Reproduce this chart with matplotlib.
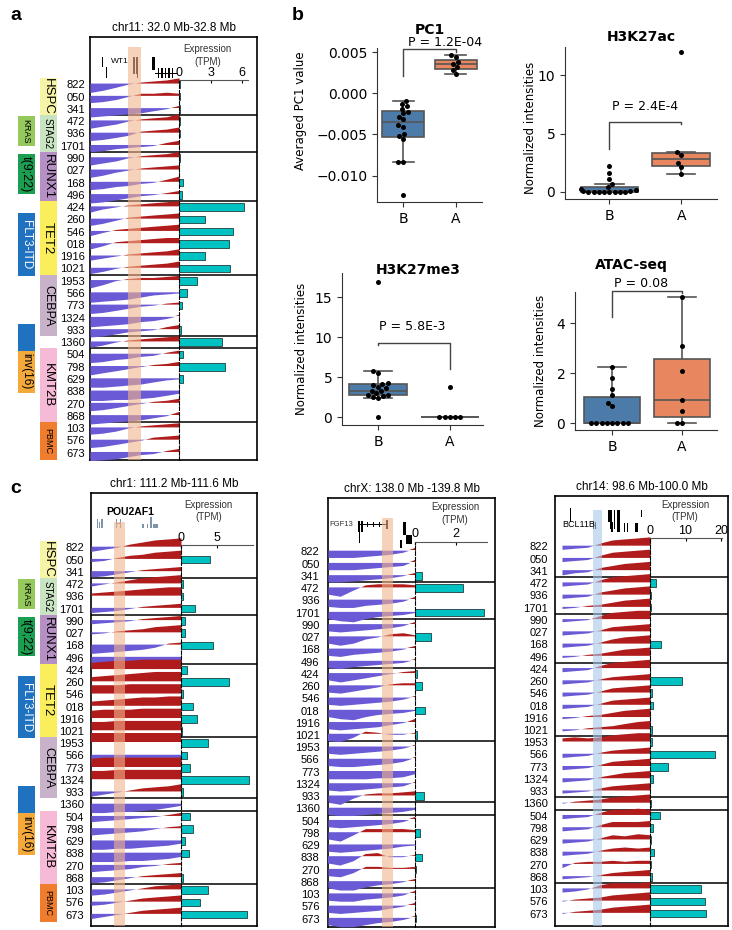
import numpy as np
import matplotlib
matplotlib.use("Agg")
import matplotlib.pyplot as plt
from matplotlib.transforms import blended_transform_factory
import seaborn as sns

plt.rcParams['font.family'] = ['Liberation Sans', 'DejaVu Sans']

W, H = 732, 930
fig = plt.figure(figsize=(W / 100, H / 100), dpi=100)

BLUE = '#6a5ad6'
RED = '#b01c1c'
TEAL = '#00c2c2'

# samples (same order in all track panels) and the group boundaries
samples = ["822", "050", "341", "472", "936", "1701", "990", "027", "168", "496",
           "424", "260", "546", "018", "1916", "1021", "1953", "566", "773", "1324",
           "933", "1360", "504", "798", "629", "838", "270", "868", "103", "576", "673"]
breaks = [2.5, 5.5, 9.5, 15.5, 20.5, 21.5, 27.5]

# left annotation strip
mut_names = ["HSPC", "STAG2", "RUNX1", "TET2", "CEBPA", "KMT2B", "PBMC"]
mut_start = [-0.5, 2.5, 5.5, 9.5, 15.5, 21.5, 27.5]
mut_end = [2.5, 5.5, 9.5, 15.5, 20.5, 27.5, 30.6]
mut_colors = ['#f6f4a6', '#c9e4c3', '#b690c5', '#fbee5c', '#c8b2c9', '#f6b9d6', '#ef7d2d']
mut_fs = [9.5, 7, 9.5, 9.5, 9, 9.5, 6.5]
co_names = ["KRAS", "t(9;22)", "FLT3-ITD", "", "inv(16)"]
co_start = [2.6, 5.7, 10.5, 19.5, 21.7]
co_end = [5.0, 8.9, 15.6, 21.7, 25.1]
co_colors = ['#95c95c', '#1b9e50', '#1f72bf', '#1f72bf', '#f4a93a']
co_text = ['black', 'black', 'white', 'white', 'black']
co_fs = [6.5, 9, 8.5, 8, 8.5]

# compartment profiles (tenths), sampled at these positions along each region
track_x = [0, 0.14, 0.29, 0.43, 0.57, 0.71, 0.86, 1.0]

pc_wt1 = [
    [-9, -7, -4, -1, 1, 2, 3, 5], [-7, -6, -4, -1, 2, 2, 3, 2], [-9, -8, -7, -6, -5, -3, -1, 2],
    [-8, -6, -4, -1, 1, 2, 3, 6], [-8, -7, -5, -3, 1, 2, 3, 5], [-7, -6, -4, -3, -2, -1, 2, 4],
    [-8, -6, -4, -1, 1, 2, 3, 5], [-8, -6, -3, -1, 1, 2, 3, 4], [-8, -7, -5, -4, -2, -1, 2, 5],
    [-9, -8, -6, -4, -2, -1, 1, 3],
    [-6, -3, -1, 1, 2, 3, 4, 5], [-7, -5, -2, 1, 2, 3, 4, 5], [-5, -2, 1, 2, 3, 4, 5, 6],
    [-6, -3, 1, 2, 3, 4, 5, 5], [-5, -3, -1, 1, 2, 3, 4, 6], [-6, -4, -1, 1, 2, 3, 4, 6],
    [-8, -5, -1, 1, 2, 2, 3, 4], [-10, -9, -8, -7, -5, -3, -2, -1], [-9, -8, -6, -4, -2, -1, 1, 2],
    [-10, -9, -8, -7, -5, -4, -2, 1], [-8, -7, -5, -3, -2, -1, 2, 4],
    [-6, -4, -1, 1, 2, 3, 4, 5],
    [-9, -8, -6, -5, -3, -2, 1, 3], [-9, -7, -5, -3, -1, 1, 2, 4], [-9, -9, -8, -7, -6, -4, -2, -1],
    [-10, -10, -9, -9, -8, -7, -5, -3], [-8, -7, -5, -3, -1, 1, 2, 4], [-9, -8, -7, -6, -5, -3, -1, 3],
    [-7, -6, -4, -1, 1, 2, 3, 4], [-8, -7, -5, -3, -1, 2, 3, 4], [-9, -8, -7, -5, -3, -2, 1, 3],
]
pc_pou = [
    [-5, -3, -1, 2, 4, 6, 7, 8], [-3, -2, 1, 3, 4, 6, 7, 8], [-6, -5, -3, -1, 1, 2, 3, 4],
    [-3, -1, 1, 3, 5, 6, 7, 8], [2, 3, 4, 5, 6, 7, 8, 8], [-5, -4, -3, -1, 1, 2, 3, 4],
    [-4, -3, -2, -1, 1, 2, 3, 4], [-2, -1, 1, 2, 3, 5, 6, 7], [-9, -8, -7, -6, -5, -3, 1, 2],
    [-9, -9, -8, -8, -7, -6, -5, -3],
    [6, 7, 8, 8, 9, 9, 9, 9], [4, 5, 6, 7, 8, 9, 9, 9], [8, 8, 8, 9, 9, 9, 9, 9],
    [4, 5, 6, 7, 8, 8, 9, 9], [7, 8, 8, 8, 9, 9, 9, 9], [8, 8, 9, 9, 9, 9, 9, 9],
    [9, 9, 9, 9, 9, 9, 9, 9], [-8, -8, -7, -6, -6, -5, -5, -4], [8, 9, 9, 9, 9, 9, 9, 9],
    [8, 8, 9, 9, 9, 9, 9, 9], [-5, -3, -1, 1, 3, 4, 5, 7],
    [-9, -9, -8, -8, -7, -6, -4, -2],
    [-6, -5, -4, -3, -2, -1, 1, 3], [-7, -6, -5, -4, -3, -1, 1, 2], [-9, -9, -8, -8, -7, -6, -5, -3],
    [-9, -9, -9, -8, -8, -7, -6, -4], [-7, -6, -5, -4, -2, -1, 1, 2], [-6, -5, -3, -1, 1, 2, 3, 4],
    [-6, -5, -3, -1, 1, 3, 4, 5], [-4, -3, -1, 1, 3, 4, 5, 6], [-5, -3, -1, 1, 3, 4, 5, 6],
]
pc_fgf = [
    [-7, -7, -7, -6, -5, -4, -2, 2], [-7, -7, -7, -6, -5, -4, -3, 2], [-7, -7, -6, -5, -4, -3, -1, 2],
    [-7, -9, -3, 2, 3, 3, 3, 2], [-7, -8, -8, -6, -5, -4, -2, 2], [-7, -9, -10, -7, -5, -4, -3, -1],
    [-7, -8, -7, -6, -5, -4, -2, 2], [-7, -9, -7, -3, -1, 2, 3, 1], [-7, -8, -6, -5, -4, -3, -1, 2],
    [-7, -8, -6, -5, -4, -3, -2, 1],
    [-7, -9, -7, -5, -3, -1, 1, 2], [-7, -8, -6, -4, -2, 1, 2, 2], [-7, -8, -7, -6, -5, -4, -2, 1],
    [-7, -9, -10, -7, -5, -4, -3, -1], [-7, -8, -7, -6, -5, -3, -1, 2], [-7, -8, -4, 2, 1, -1, -1, 1],
    [-7, -8, -7, -6, -5, -4, -2, 1], [-7, -8, -8, -7, -6, -5, -3, 1], [-8, -8, -8, -8, -7, -7, -6, -3],
    [-7, -8, -7, -6, -5, -4, -3, 1], [-7, -9, -3, 1, 2, 2, 3, 4],
    [-7, -8, -8, -7, -6, -5, -4, -2],
    [-7, -8, -7, -6, -5, -4, -2, 2], [-7, -9, -3, 3, 3, 3, 3, 2], [-7, -8, -7, -6, -5, -4, -2, -1],
    [-7, -9, -5, 2, 3, -1, -1, 1], [-7, -8, -4, 2, 2, 1, 1, 2], [-7, -9, -9, -6, -4, -3, -1, 2],
    [-7, -8, -8, -6, -5, -4, -2, 2], [-7, -8, -7, -6, -5, -3, -1, 2], [-7, -9, -9, -7, -5, -4, -2, 1],
]
pc_bcl = [
    [-4, -3, -2, 2, 5, 6, 7, 8], [-4, -3, -2, 2, 5, 6, 7, 8], [-5, -3, -2, 2, 4, 6, 7, 8],
    [-4, -3, -2, 2, 5, 6, 7, 8], [-4, -3, -2, 2, 4, 6, 7, 8], [-2, -1, 1, 2, 4, 6, 7, 8],
    [-3, -2, -1, 3, 6, 7, 8, 8], [-4, -3, -2, 1, 4, 5, 6, 7], [-4, -3, -2, 1, 4, 6, 7, 8],
    [-2, -1, 1, 2, 4, 6, 7, 8],
    [-4, -3, -2, 2, 5, 6, 7, 8], [-4, -3, -2, 1, 3, 4, 5, 6], [-4, -3, -2, 1, 4, 5, 6, 7],
    [-4, -3, -2, 1, 4, 5, 6, 7], [-2, -1, 1, 2, 4, 6, 7, 8], [-2, -1, 1, 2, 3, 5, 7, 8],
    [3, 4, 3, 4, 6, 7, 8, 8], [-4, -3, -2, 1, 3, 4, 5, 6], [-4, -3, -2, 1, 4, 5, 6, 7],
    [-4, -3, -2, 1, 3, 5, 6, 7], [-3, -2, -1, 2, 4, 5, 6, 7],
    [-1, 1, 2, 3, 5, 6, 7, 8],
    [-4, -3, -2, 2, 5, 5, 6, 5], [-4, -3, -2, 2, 5, 5, 5, 6], [-4, -3, -2, 1, 4, 3, 5, 4],
    [-4, -3, -2, 1, 3, 4, 3, 4], [-4, 1, 2, 2, 3, 2, 3, 3], [-3, -2, -1, 1, 3, 4, 5, 6],
    [-4, -3, -1, 3, 5, 5, 5, 6], [-1, 1, 2, 3, 5, 6, 7, 8], [-1, 1, 2, 3, 5, 6, 7, 8],
]

# expression (TPM)
expr_wt1 = [0.05, 0.1, 0.05, 0.05, 0.05, 0, 0.1, 0, 0.4, 0.3, 6.2, 2.5, 5.1, 4.8, 2.5, 4.9,
            1.7, 0.8, 0.3, 0, 0.2, 4.1, 0.4, 4.4, 0.4, 0, 0, 0, 0, 0, 0]
expr_pou = [0.05, 4.0, 0, 0.3, 0.3, 2.0, 0.5, 0.6, 4.4, 0.05, 0.9, 6.6, 0.3, 1.7, 2.2, 0.2,
            3.8, 0.8, 1.3, 9.5, 0.3, 0, 1.3, 1.7, 0.5, 1.1, 0, 0.3, 3.7, 2.6, 9.2]
expr_fgf = [0, 0, 0.35, 2.35, 0, 3.35, 0, 0.8, 0, 0, 0.1, 0.35, 0, 0.48, 0, 0.1,
            0, 0, 0, 0, 0.42, 0, 0, 0.22, 0, 0.32, 0.05, 0, 0, 0, 0.07]
expr_bcl = [0, 0, 0, 1.7, 0.2, 0.3, 0, 0, 3.0, 0, 0, 9.0, 0.7, 0.9, 0.1, 0.5,
            0.5, 18.2, 5.0, 0.8, 0, 0.2, 2.9, 0.8, 0.3, 1.0, 0.2, 0.6, 14.5, 15.6, 15.7]

# gene models in the header: (start, end, top row, bottom row)
genes_wt1 = [(0.13, 0.15, -2.25, -1.44), (0.185, 0.195, -1.44, -0.5), (0.48, 0.50, -2.2, -0.8),
             (0.515, 0.535, -2.2, -0.8), (0.53, 0.54, -1.6, -0.5), (0.70, 0.73, -2.25, -1.2),
             (0.73, 0.98, -0.95, -0.85), (0.76, 0.775, -1.3, -0.5), (0.80, 0.815, -1.3, -0.5),
             (0.84, 0.855, -1.3, -0.5), (0.88, 0.895, -1.3, -0.5), (0.92, 0.935, -1.3, -0.5)]
genes_pou = [(0.07, 0.08, -2.3, -1.6), (0.09, 0.10, -2.1, -1.6), (0.11, 0.13, -2.3, -1.6),
             (0.28, 0.29, -2.3, -1.6), (0.32, 0.33, -2.3, -1.6), (0.28, 0.33, -1.98, -1.92),
             (0.57, 0.59, -1.9, -1.6), (0.62, 0.63, -1.9, -1.6), (0.66, 0.68, -2.5, -1.6),
             (0.69, 0.74, -1.9, -1.6)]
genes_fgf = [(0.35, 0.37, -2.5, -1.6), (0.38, 0.40, -2.5, -1.6), (0.36, 0.37, -1.6, -0.7),
             (0.35, 0.69, -2.22, -2.16), (0.45, 0.46, -2.4, -2.0), (0.52, 0.53, -2.4, -2.0),
             (0.59, 0.60, -2.4, -2.0), (0.67, 0.69, -2.6, -1.8), (0.83, 0.85, -0.9, -0.3),
             (0.86, 0.90, -2.4, -1.3), (0.90, 0.96, -1.3, -0.6), (0.88, 0.89, -1.3, -0.6)]
genes_bcl = [(0.09, 0.105, -3.1, -2.0), (0.355, 0.365, -2.0, -1.4), (0.38, 0.39, -2.0, -1.4),
             (0.52, 0.54, -3.0, -2.0), (0.55, 0.57, -3.0, -1.4), (0.59, 0.60, -3.0, -1.4),
             (0.63, 0.66, -3.0, -1.2), (0.56, 0.58, -2.0, -1.2), (0.70, 0.72, -1.9, -1.2),
             (0.74, 0.75, -1.9, -1.2), (0.90, 0.905, -3.0, -2.4), (0.83, 0.86, -1.9, -1.2)]

# panel b values
pc1_B = [-0.0124, -0.0084, -0.0084, -0.0056, -0.0052, -0.0050, -0.00408, -0.00387, -0.00318,
         -0.00286, -0.00245, -0.00226, -0.00185, -0.00157, -0.00125, -0.00097]
pc1_A = [0.0023, 0.0028, 0.0032, 0.0036, 0.0038, 0.0044, 0.0046]
ac_B = [0, 0, 0, 0, 0, 0, 0, 0, 0.1, 0.12, 0.15, 0.25, 0.4, 0.68, 1.1, 1.6, 2.25]
ac_A = [1.5, 2.1, 2.45, 3.15, 3.45, 12.0]
me3_B = [0, 2.4, 2.5, 2.6, 2.7, 2.8, 3.0, 3.2, 3.3, 3.6, 3.8, 4.0, 4.1, 4.2, 5.5, 5.8, 16.9]
me3_A = [0, 0, 0, 0, 0, 3.8]
atac_B = [0, 0, 0, 0, 0, 0, 0, 0, 0.68, 0.79, 1.12, 1.36, 1.8, 2.25]
atac_A = [0, 0, 0.5, 0.92, 2.08, 3.08, 5.05]


def px_rect(x0, y0, x1, y1):
    return [x0 / W, 1 - y1 / H, (x1 - x0) / W, (y1 - y0) / H]


def track_panel(box, row0, step, dash, track0, pc, expr, tpm_px, ticks, line_end, line_row,
                band, band_top, band_color, title, label_pad, expr_lab, genes, gene_color):
    bx0, by0, bx1, by1 = box
    top = (by0 - row0) / step
    bot = (by1 - row0) / step

    axb = fig.add_axes(px_rect(*box))
    axb.set_xlim(0, 1)
    axb.set_ylim(bot, top)
    axb.set_xticks([])
    axb.set_yticks(range(len(samples)))
    axb.set_yticklabels(samples, fontsize=8)
    axb.tick_params(axis='y', length=0, pad=label_pad)
    for s in axb.spines.values():
        s.set_linewidth(1.2)
    for b in breaks:
        axb.axhline(b, color='black', lw=1.1)
    axb.set_title(title, fontsize=8.5, pad=4)

    axt = fig.add_axes(px_rect(track0, by0, dash, by1))
    axt.set_xlim(0, 1)
    axt.set_ylim(bot, top)
    axt.axis('off')
    x = np.array(track_x)
    for i, vals in enumerate(pc):
        v = np.array(vals) / 10 * 0.85
        base = i - 0.1
        axt.fill_between(x, base, base - v, where=v >= 0, interpolate=True, color=RED, lw=0)
        axt.fill_between(x, base, base - v, where=v <= 0, interpolate=True, color=BLUE, lw=0)
    for g0, g1, r0, r1 in genes:
        axt.bar(g0, r1 - r0, bottom=r0, width=g1 - g0, align='edge', color=gene_color, lw=0)
    axt.fill_between(band, band_top, bot, color=band_color, alpha=0.6, lw=0, zorder=3)

    ly = row0 + line_row * step
    axe = fig.add_axes(px_rect(dash, ly, bx1, by1))
    axe.set_facecolor('none')
    axe.set_xlim(0, (bx1 - dash) / tpm_px)
    axe.set_ylim(bot, line_row)
    axe.barh(range(len(expr)), expr, height=0.62, color=TEAL, edgecolor='#1d3f3f', lw=0.6)
    axe.xaxis.tick_top()
    axe.set_xticks(ticks)
    axe.set_yticks([])
    axe.tick_params(axis='x', direction='in', length=2.5, pad=1, width=0.8, labelsize=9)
    axe.spines['top'].set_bounds(0, line_end)
    axe.spines['top'].set_linewidth(0.8)
    axe.spines['top'].set_color('#555555')
    axe.spines['right'].set_visible(False)
    axe.spines['bottom'].set_visible(False)
    axe.spines['left'].set_linestyle((0, (3, 2)))
    axe.spines['left'].set_linewidth(0.8)
    tr = blended_transform_factory(axe.transAxes, axe.transData)
    axe.text(expr_lab[0], expr_lab[1], "Expression\n(TPM)", transform=tr, ha='center',
             va='center', fontsize=7, color='#333333', linespacing=1.3)
    return axt, top, bot


def annot_strip(by0, by1, top, bot):
    ax = fig.add_axes(px_rect(17, by0, 57, by1))
    ax.set_xlim(0, 2)
    ax.set_ylim(bot, top)
    ax.axis('off')
    ax.bar(1.55, np.array(mut_end) - np.array(mut_start), bottom=mut_start, width=0.85,
           color=mut_colors, lw=0)
    for n, s, e, fs in zip(mut_names, mut_start, mut_end, mut_fs):
        ax.text(1.55, (s + e) / 2, n, rotation=270, ha='center', va='center', fontsize=fs)
    ax.bar(0.45, np.array(co_end) - np.array(co_start), bottom=co_start, width=0.85,
           color=co_colors, lw=0)
    for n, s, e, fs, c in zip(co_names, co_start, co_end, co_fs, co_text):
        ax.text(0.45, (s + e) / 2, n, rotation=270, ha='center', va='center', fontsize=fs, color=c)


# ---- panel a
axt, top, bot = track_panel((90, 37, 257, 460), 84.3, 12.28, 179, 90, pc_wt1, expr_wt1, 10.5,
                            [0, 3, 6], 6.6, -0.35, [0.43, 0.57], -3.04, '#f3b48c',
                            "chr11: 32.0 Mb-32.8 Mb", 3.5, (0.37, -2.35), genes_wt1, 'black')
axt.text(0.34, -1.84, "WT1", fontsize=6, ha='center', va='center')
annot_strip(37, 460, top, bot)

# ---- panel c
axt, top, bot = track_panel((91, 493, 257, 926), 547.4, 12.24, 181, 91, pc_pou, expr_pou, 7.2,
                            [0, 5], 10, -0.2, [0.26, 0.38], -2.07, '#f3b48c',
                            "chr1: 111.2 Mb-111.6 Mb", 5, (0.36, -2.97), genes_pou, '#7f93a8')
axt.text(0.43, -2.9, "POU2AF1", fontsize=7.5, weight='bold', ha='center', va='center')
annot_strip(493, 926, top, bot)

axt, top, bot = track_panel((328, 498, 495, 927), 551.4, 12.24, 415, 328, pc_fgf, expr_fgf, 20.5,
                            [0, 2], 3.5, -0.8, [0.62, 0.75], -2.7, '#f3b48c',
                            "chrX: 138.0 Mb -139.8 Mb", 6, (0.5, -3.1), genes_fgf, 'black')
axt.text(0.02, -2.2, "FGF13", fontsize=5.5, ha='left', va='center', color='#333333')

axt, top, bot = track_panel((555, 496, 728, 926), 546.4, 12.24, 650, 562, pc_bcl, expr_bcl, 3.55,
                            [0, 10, 20], 20.3, -0.69, [0.35, 0.45], -2.97, '#a9c9e8',
                            "chr14: 98.6 Mb-100.0 Mb", 5, (0.45, -2.9), genes_bcl, 'black')
axt.text(0.0, -1.75, "BCL11B", fontsize=6.5, ha='left', va='center')

# ---- panel b
CB = '#4d7ba9'
CA = '#e8875f'


def box_panel(r, b, a, xlim, ylim, yticks, fmt, title, title_xy, ylabel, ylab_xy,
              bracket, ptext, pxy):
    ax = fig.add_axes(px_rect(*r))
    vals = list(b) + list(a)
    grp = ["B"] * len(b) + ["A"] * len(a)
    sns.boxplot(x=grp, y=vals, hue=grp, order=["B", "A"], hue_order=["B", "A"],
                palette=[CB, CA], saturation=1, width=0.8, showfliers=False, linewidth=1.2,
                linecolor='#555555', legend=False, ax=ax)
    sns.swarmplot(x=grp, y=vals, order=["B", "A"], color='black', size=3.6, ax=ax)
    ax.set_xlim(*xlim)
    ax.set_ylim(*ylim)
    ax.set_yticks(yticks)
    if fmt:
        ax.set_yticklabels([f"{v:.3f}".replace("-", "\u2212") for v in yticks])
    ax.set_xlabel("")
    ax.set_ylabel(ylabel, fontsize=8.5, family='DejaVu Sans')
    ax.yaxis.set_label_coords(*ylab_xy)
    ax.spines['top'].set_visible(False)
    ax.spines['right'].set_visible(False)
    for s in ('left', 'bottom'):
        ax.spines[s].set_color('#333333')
    ax.tick_params(labelsize=10, labelfontfamily='DejaVu Sans', length=3.5, color='#333333')
    ax.text(title_xy[0], title_xy[1], title, transform=ax.transAxes, ha='center', va='center',
            fontsize=10, weight='bold', family='DejaVu Sans')
    yl, yh, yr = bracket
    ax.plot([0, 0, 1, 1], [yl, yh, yh, yr], color='#444444', lw=1, clip_on=False)
    ax.text(pxy[0], pxy[1], ptext, ha='center', va='center', fontsize=9,
            family='DejaVu Sans', clip_on=False)


box_panel((377, 48, 482, 202), pc1_B, pc1_A, (-0.5, 1.5), (-0.0132, 0.0055),
          [-0.010, -0.005, 0.0, 0.005], True, "PC1", (0.5, 1.12), "Averaged PC1 value",
          (-0.667, 0.59), (0.00205, 0.0054, 0.005), "P = 1.2E-04", (0.8, 0.0062))
box_panel((565, 47, 717, 199), ac_B, ac_A, (-0.62, 1.5), (-0.6, 12.4), [0, 5, 10], False,
          "H3K27ac", (0.5, 1.066), "Normalized intensities", (-0.184, 0.47),
          (3.7, 6.0, 5.8), "P = 2.4E-4", (0.49, 7.3))
box_panel((342, 273, 483, 425), me3_B, me3_A, (-0.5, 1.46), (-1, 18), [0, 5, 10, 15], False,
          "H3K27me3", (0.54, 1.02), "Normalized intensities", (-0.24, 0.5),
          (9.0, 9.25, 6.0), "P = 5.8E-3", (0.47, 11.3))
box_panel((575, 292, 717, 430), atac_B, atac_A, (-0.53, 1.5), (-0.27, 5.25), [0, 2, 4], False,
          "ATAC-seq", (0.4, 1.196), "Normalized intensities", (-0.197, 0.5),
          (4.25, 5.3, 5.2), "P = 0.08", (0.41, 5.6))

# panel letters
fig.text(10 / W, 1 - 15 / H, "a", fontsize=14, weight='bold', va='center')
fig.text(292 / W, 1 - 15 / H, "b", fontsize=14, weight='bold', va='center')
fig.text(10 / W, 1 - 488 / H, "c", fontsize=14, weight='bold', va='center')

fig.savefig("out.png", dpi=100)
